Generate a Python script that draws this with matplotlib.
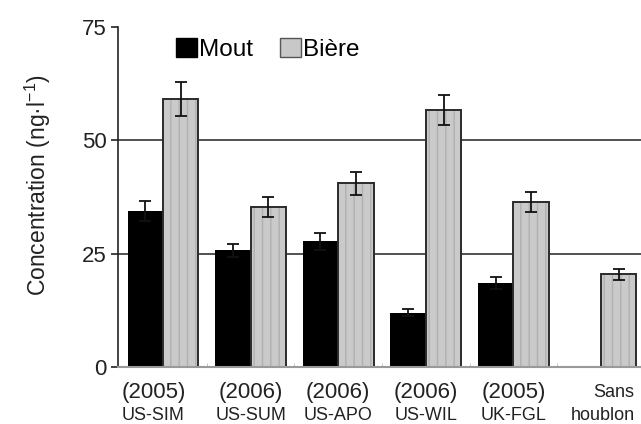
import matplotlib.pyplot as plt
import matplotlib.patches as mpatches
import numpy as np

plt.rcParams['font.family'] = ['Liberation Sans', 'DejaVu Sans']
plt.rcParams['mathtext.fontset'] = 'custom'
plt.rcParams['mathtext.rm'] = 'Liberation Sans'
plt.rcParams['mathtext.default'] = 'regular'

# Data
years = ['(2005)', '(2006)', '(2006)', '(2006)', '(2005)', 'Sans']
varieties = ['US-SIM', 'US-SUM', 'US-APO', 'US-WIL', 'UK-FGL', 'houblon']
mout = [34.5, 25.7, 27.7, 12.0, 18.6, np.nan]
mout_err = [2.2, 1.5, 1.9, 0.7, 1.3, np.nan]
biere = [59.1, 35.2, 40.5, 56.6, 36.5, 20.5]
biere_err = [3.7, 2.2, 2.5, 3.3, 2.2, 1.2]

fig = plt.figure(figsize=(6.41, 4.24), dpi=100)
ax = fig.add_axes([118/641, 1-367/424, 523/641, 340/424])

x = np.arange(len(biere))
w = 0.405

# grid lines behind the bars
for yv in [25, 50]:
    ax.axhline(yv, color='#333333', lw=1.2, zorder=0)

ax.bar(x - w/2, mout, w, color='black', edgecolor='black', lw=0, zorder=2)
ax.errorbar(x - w/2, mout, yerr=mout_err, fmt='none', ecolor='#111111',
            elinewidth=1.3, capsize=4, capthick=1.3, zorder=3)

# beer bars: dotted vertical hatch then dark outline
ax.bar(x + w/2, biere, w, color='#cacaca', edgecolor='#b0b0b0', hatch='||',
       lw=0, zorder=2)
ax.bar(x + w/2, biere, w, fill=False, edgecolor='#2b2b2b', lw=1.4, zorder=2)
ax.errorbar(x + w/2, biere, yerr=biere_err, fmt='none', ecolor='#111111',
            elinewidth=1.3, capsize=4, capthick=1.3, zorder=3)

ax.set_xlim(-0.514, 5.457)
ax.set_ylim(0, 75)
ax.set_yticks([0, 25, 50, 75])
ax.tick_params(axis='y', labelsize=16, length=5, width=1.2, pad=3,
               colors='#222222')
ax.set_xticks([])
ax.set_xticks(x[:-1] + 0.5, minor=True)
ax.tick_params(axis='x', which='minor', direction='in', length=3,
               color='#bbbbbb', labelbottom=False)

for s in ['top', 'right']:
    ax.spines[s].set_visible(False)
ax.spines['left'].set_color('#222222')
ax.spines['left'].set_linewidth(1.2)
ax.spines['bottom'].set_color('#999999')
ax.spines['bottom'].set_linewidth(1.5)

# two-line category labels
offs = [-0.11, 0, 0, 0, 0, 0.02]
trans = ax.get_xaxis_transform()
for i in range(len(years)):
    top_size = 13 if years[i] == 'Sans' else 16
    top_dx = 0.13 if years[i] == 'Sans' else 0
    ax.text(x[i] + offs[i] + top_dx, -0.074, years[i], transform=trans,
            ha='center', va='center', fontsize=top_size, color='#222222')
    ax.text(x[i] + offs[i], -0.143, varieties[i], transform=trans,
            ha='center', va='center', fontsize=13, color='#222222')

ax.set_ylabel('Concentration (ng·l$^{-1}$)', fontsize=16.5, color='#222222')
ax.yaxis.set_label_coords(-0.125, 0.534)

handles = [mpatches.Patch(facecolor='black', edgecolor='black', label='Mout'),
           mpatches.Patch(facecolor='#c8c8c8', edgecolor='#555555', lw=1,
                          label='Bière')]
ax.legend(handles=handles, loc='upper left', bbox_to_anchor=(0.111, 0.968),
          ncol=2, frameon=False, fontsize=17.5, handlelength=0.85,
          handleheight=0.85, handletextpad=0.1, columnspacing=1.1,
          borderpad=0, borderaxespad=0)

fig.savefig('out.png', dpi=100)
